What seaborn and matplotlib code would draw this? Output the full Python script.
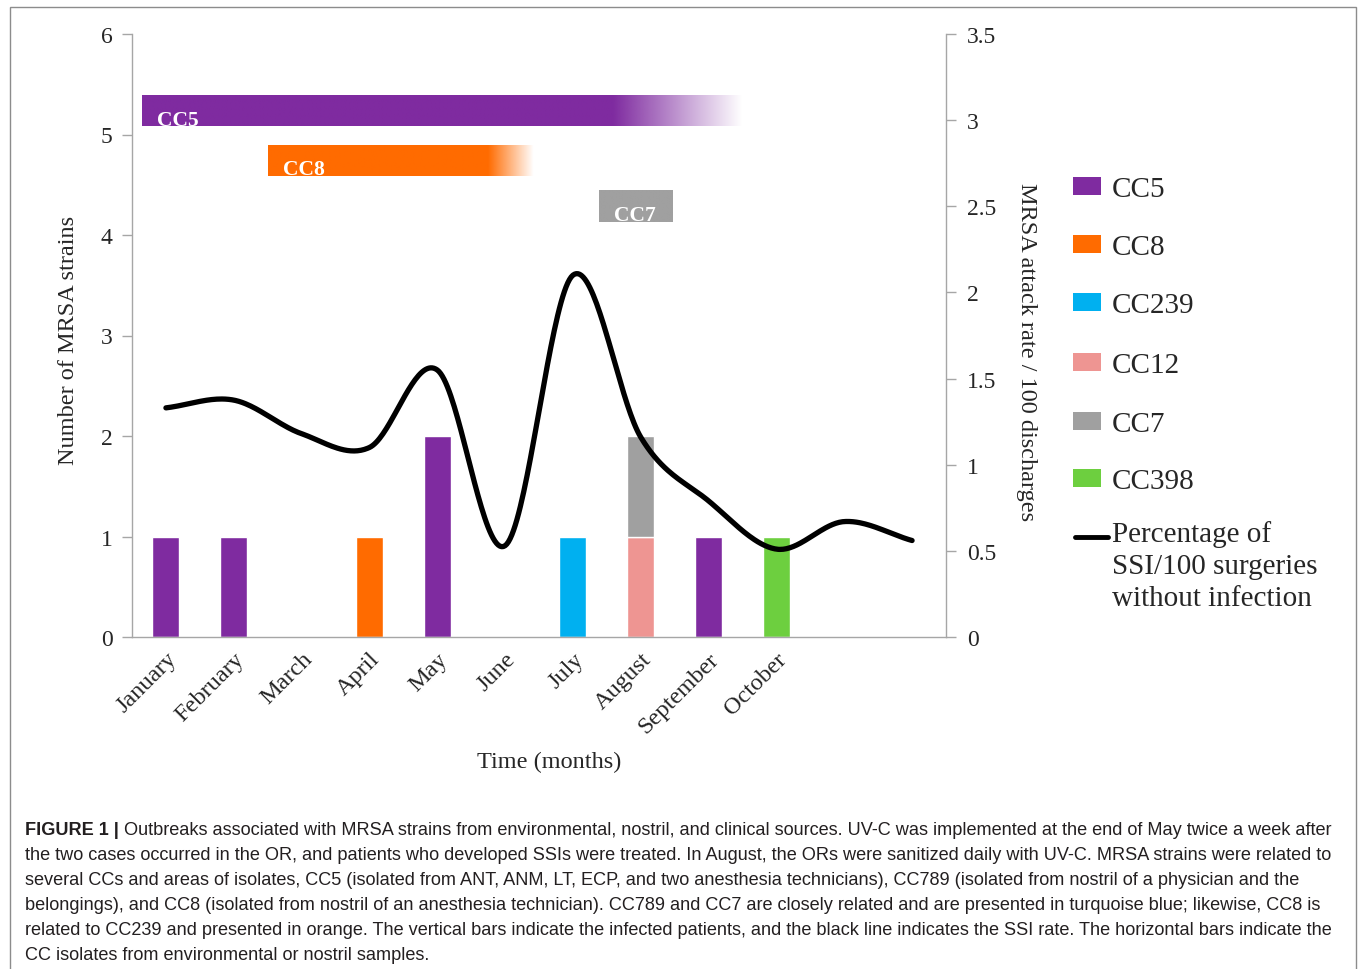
import numpy as np
import pandas as pd
import matplotlib
matplotlib.use("Agg")
import matplotlib.pyplot as plt
from matplotlib.patches import Rectangle
from matplotlib.lines import Line2D
from matplotlib.transforms import ScaledTranslation
import seaborn as sns

# ---------------------------------------------------------------- data
months = ["January", "February", "March", "April", "May", "June", "July",
          "August", "September", "October", "November", "December"]
month_labels = ["January", "February", "March", "April", "May", "June",
                "July", "August", "September", "October", "", ""]

strains = ["CC5", "CC8", "CC239", "CC12", "CC7", "CC398"]
strain_colors = ["#7F2BA0", "#FF6B00", "#00B0F0", "#EE9592", "#A0A0A0", "#6DCF3F"]

# infected patients (vertical bars)
case_month = ["January", "February", "April", "May", "July",
              "August", "August", "September", "October"]
case_strain = ["CC5", "CC5", "CC8", "CC5", "CC239", "CC12", "CC7", "CC5", "CC398"]
case_count = [1, 1, 1, 2, 1, 1, 1, 1, 1]

# SSI rate per month (right axis)
ssi_rate = [1.33, 1.375, 1.18, 1.10, 1.55, 0.53, 2.10, 1.16, 0.79, 0.51, 0.67, 0.56]

# environmental / nostril isolates (horizontal bars, month-index units)
iso_names = ["CC5", "CC8", "CC7"]
iso_start = [-0.35, 1.51, 6.38]
iso_solid_end = [6.6, 4.75, 7.46]
iso_end = [8.5, 5.42, 7.46]
iso_low = [5.08, 4.59, 4.13]
iso_high = [5.38, 4.89, 4.44]

caption_bold = "FIGURE 1 |"
caption_lines = [
    "Outbreaks associated with MRSA strains from environmental, nostril, and clinical sources. UV-C was implemented at the end of May twice a week after",
    "the two cases occurred in the OR, and patients who developed SSIs were treated. In August, the ORs were sanitized daily with UV-C. MRSA strains were related to",
    "several CCs and areas of isolates, CC5 (isolated from ANT, ANM, LT, ECP, and two anesthesia technicians), CC789 (isolated from nostril of a physician and the",
    "belongings), and CC8 (isolated from nostril of an anesthesia technician). CC789 and CC7 are closely related and are presented in turquoise blue; likewise, CC8 is",
    "related to CC239 and presented in orange. The vertical bars indicate the infected patients, and the black line indicates the SSI rate. The horizontal bars indicate the",
    "CC isolates from environmental or nostril samples.",
]
legend_line_label = "Percentage of\nSSI/100 surgeries\nwithout infection"

# ---------------------------------------------------------------- style
sns.set_theme(style="white")
plt.rcParams["font.family"] = ["Liberation Serif", "DejaVu Serif"]
GRAY = "#A6A6A6"
W, H = 1358, 970
palette = dict(zip(strains, strain_colors))

fig = plt.figure(figsize=(W / 100, H / 100), dpi=100)
ax = fig.add_axes([132 / W, 1 - 638 / H, 814 / W, 603 / H])

# ---------------------------------------------------------------- vertical bars
df = pd.DataFrame({"month": case_month, "strain": case_strain, "count": case_count})
df["bottom"] = df.groupby("month")["count"].cumsum() - df["count"]
base = df[df["bottom"] == 0]
stacked = df[df["bottom"] > 0]

sns.barplot(data=base, x="month", y="count", hue="strain", order=months,
            hue_order=strains, palette=palette, dodge=False, width=0.4,
            saturation=1, errorbar=None, legend=False, ax=ax, zorder=2)
ax.bar([months.index(m) for m in stacked["month"]], stacked["count"],
       bottom=stacked["bottom"], width=0.4,
       color=[palette[s] for s in stacked["strain"]], zorder=2)

# ---------------------------------------------------------------- isolate bars with fading tail
for name, x0, xs, x1, y0, y1 in zip(iso_names, iso_start, iso_solid_end,
                                    iso_end, iso_low, iso_high):
    rgb = matplotlib.colors.to_rgb(palette[name])
    xx = np.linspace(x0, x1, 500)
    fade = max(x1 - xs, 1e-9)
    alpha = np.clip(1 - (xx - xs) / fade, 0, 1)
    img = np.zeros((2, xx.size, 4))
    img[..., :3] = rgb
    img[..., 3] = alpha
    ax.imshow(img, extent=(x0, x1, y0, y1), aspect="auto", origin="lower",
              interpolation="bilinear", zorder=2)
    ax.text(x0 + 0.22, y0 + 0.015, name, color="white", fontweight="bold",
            fontsize=15.5, va="baseline", ha="left", zorder=3)

ax.set_xlim(-0.5, 11.5)
ax.set_ylim(0, 6)
ax.set_yticks(range(0, 7))
ax.set_xticks(range(12))
ax.set_xticks(np.arange(-0.5, 12, 1), minor=True)
ax.set_xticklabels(month_labels, rotation=45, ha="right", va="top",
                   rotation_mode="anchor", fontsize=17.5)
for lab in ax.get_xticklabels():
    lab.set_transform(lab.get_transform() + ScaledTranslation(0.14, 0.02, fig.dpi_scale_trans))
ax.tick_params(axis="x", which="major", length=0, pad=8)
ax.tick_params(axis="x", which="minor", length=8, color=GRAY, width=1, direction="out")
ax.tick_params(axis="y", length=7, color=GRAY, width=1, direction="out",
               labelsize=17, pad=7, left=True)
ax.grid(False)
for side in ["top", "right"]:
    ax.spines[side].set_visible(False)
for side in ["left", "bottom"]:
    ax.spines[side].set_color(GRAY)
    ax.spines[side].set_linewidth(1)

ax.set_ylabel("Number of MRSA strains", fontsize=17.5, va="center", ha="center")
ax.yaxis.set_label_coords((68 - 132) / 814, (638 - 340) / 603)
ax.set_xlabel("Time (months)", fontsize=17.5, va="center", ha="center")
ax.xaxis.set_label_coords((549 - 132) / 814, (638 - 762) / 603)

# ---------------------------------------------------------------- SSI rate line (smoothed)
def smooth(values, n=40):
    y = np.asarray(values, dtype=float)
    t = np.gradient(y)
    xs, ys = [], []
    for i in range(len(y) - 1):
        s = np.linspace(0, 1, n, endpoint=(i == len(y) - 2))
        h00 = 2 * s**3 - 3 * s**2 + 1
        h10 = s**3 - 2 * s**2 + s
        h01 = -2 * s**3 + 3 * s**2
        h11 = s**3 - s**2
        ys.append(h00 * y[i] + h10 * t[i] + h01 * y[i + 1] + h11 * t[i + 1])
        xs.append(i + s)
    return np.concatenate(xs), np.concatenate(ys)

ax2 = ax.twinx()
cx, cy = smooth(ssi_rate)
sns.lineplot(x=cx, y=cy, ax=ax2, color="black", linewidth=3.8, sort=False,
             estimator=None, solid_capstyle="round", zorder=4)
ax2.set_ylim(0, 3.5)
ax2.set_yticks(np.arange(0, 3.51, 0.5))
ax2.set_yticklabels(["0", "0.5", "1", "1.5", "2", "2.5", "3", "3.5"])
ax2.tick_params(axis="y", length=7, color=GRAY, width=1, direction="out",
                labelsize=17, pad=8, right=True)
ax2.grid(False)
for side in ["top", "left", "bottom"]:
    ax2.spines[side].set_visible(False)
ax2.spines["right"].set_color(GRAY)
ax2.spines["right"].set_linewidth(1)
ax2.set_ylabel("MRSA attack rate / 100 discharges", fontsize=17.5,
               rotation=-90, va="center", ha="center")
ax2.yaxis.set_label_coords((1027 - 132) / 814, (638 - 352) / 603)

# ---------------------------------------------------------------- legend
leg_y = [187, 245, 303, 363, 422, 479]
for name, yc in zip(strains, leg_y):
    fig.patches.append(Rectangle((1073 / W, 1 - (yc + 9) / H), 28 / W, 18 / H,
                                 transform=fig.transFigure, facecolor=palette[name],
                                 edgecolor="none"))
    fig.text(1112 / W, 1 - (yc + 3) / H, name, fontsize=21, va="center", ha="left")
fig.lines.append(Line2D([1075 / W, 1108 / W], [1 - 538 / H, 1 - 538 / H],
                        transform=fig.transFigure, color="black", linewidth=3.5))
fig.text(1112 / W, 1 - 521 / H, legend_line_label, fontsize=21, va="top",
         ha="left", linespacing=1.3)

# ---------------------------------------------------------------- frame and caption
fig.patches.append(Rectangle((10 / W, -0.01), 1346 / W, 1.01 - 8 / H,
                             transform=fig.transFigure, facecolor="none",
                             edgecolor="#8C8C8C", linewidth=1))

cap_font = ["Liberation Sans Narrow", "Liberation Sans", "DejaVu Sans"]
cap_color = "#231F20"
cap_size = 13
cap_x0, cap_x1 = 25 / W, 1333 / W
baselines = [835, 860, 885, 910, 935, 960]
bold = fig.text(cap_x0, 1 - baselines[0] / H, caption_bold, fontsize=cap_size,
                fontweight="bold", family=cap_font, color=cap_color, va="baseline")
cap_texts = []
first = fig.text(0, 1 - baselines[0] / H, " " + caption_lines[0], fontsize=cap_size,
                 family=cap_font, color=cap_color, va="baseline")
cap_texts.append(first)
for line, yb in zip(caption_lines[1:], baselines[1:]):
    cap_texts.append(fig.text(cap_x0, 1 - yb / H, line, fontsize=cap_size,
                              family=cap_font, color=cap_color, va="baseline"))

# fit the first caption line to the text block width
renderer = fig.canvas.get_renderer()
wb = bold.get_window_extent(renderer).width
w1 = first.get_window_extent(renderer).width
scale = (cap_x1 - cap_x0) * W / (wb + w1)
for t in [bold] + cap_texts:
    t.set_fontsize(cap_size * scale)
wb = bold.get_window_extent(renderer).width
first.set_x(cap_x0 + wb / W)

fig.savefig("out.png", dpi=100)
